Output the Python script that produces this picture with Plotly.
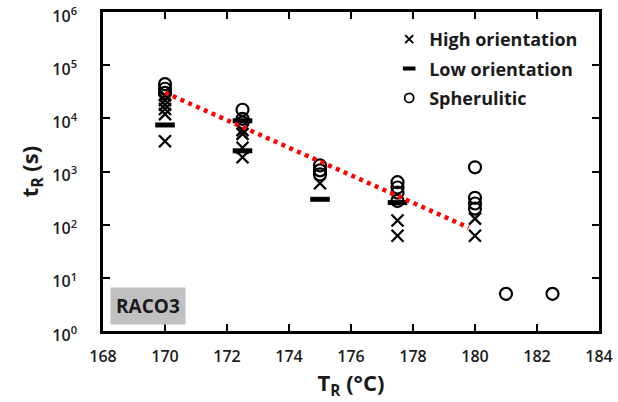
import plotly.graph_objects as go

# Data
high_T = [170, 170, 170, 170, 170, 170,
          172.5, 172.5, 172.5, 172.5,
          175,
          177.5, 177.5,
          180, 180]
high_t = [27000, 22000, 18000, 15000, 12000, 3700,
          6000, 5100, 2800, 1850,
          600,
          120, 62,
          130, 62]

low_T = [170, 172.5, 172.5, 175, 177.5]
low_t = [7500, 9000, 2450, 300, 260]

sph_T = [170, 170, 170,
         172.5, 172.5, 172.5,
         175, 175, 175,
         177.5, 177.5, 177.5, 177.5,
         180, 180, 180, 180,
         181, 182.5]
sph_t = [44000, 36000, 30000,
         14500, 9800, 8300,
         1300, 1050, 880,
         630, 500, 400, 280,
         1200, 320, 250, 200,
         5, 5]

fit_T = [170, 179.8]
fit_t = [30500, 88]

series_names = ["High orientation", "Low orientation", "Spherulitic"]

x_ticks = [168, 170, 172, 174, 176, 178, 180, 182, 184]
y_tickvals = [1, 10, 100, 1000, 10000, 100000, 1000000]
y_ticktext = ["10<sup>0</sup>", "10<sup>1</sup>", "10<sup>2</sup>", "10<sup>3</sup>",
              "10<sup>4</sup>", "10<sup>5</sup>", "10<sup>6</sup>"]

FONT = "Open Sans"
TXT = "#1a1a1a"

fig = go.Figure()
fig.add_trace(go.Scatter(
    x=high_T, y=high_t, mode="markers", name=series_names[0], showlegend=False,
    marker=dict(symbol="x-thin-open", size=12, color="black", line=dict(color="black", width=2.3)),
))
fig.add_trace(go.Scatter(
    x=low_T, y=low_t, mode="markers", name=series_names[1], showlegend=False,
    marker=dict(symbol="line-ew-open", size=14, color="black", line=dict(color="black", width=5)),
))
fig.add_trace(go.Scatter(
    x=sph_T, y=sph_t, mode="markers", name=series_names[2], showlegend=False,
    marker=dict(symbol="circle-open", size=12, color="black", line=dict(color="black", width=2.2)),
))
fig.add_trace(go.Scatter(
    x=fit_T, y=fit_t, mode="lines", showlegend=False,
    line=dict(color="#ff0000", width=4.5, dash="4px,4.5px"),
))

# legend entries (smaller symbols, as in the reference legend)
legend_markers = [
    dict(symbol="x-thin-open", size=8, color="black", line=dict(color="black", width=2)),
    dict(symbol="line-ew-open", size=9, color="black", line=dict(color="black", width=4)),
    dict(symbol="circle-open", size=9, color="black", line=dict(color="black", width=1.8)),
]
for i, (nm, mk) in enumerate(zip(series_names, legend_markers)):
    fig.add_trace(go.Scatter(
        x=[None], y=[None], mode="markers", name=nm, legendgroup=f"g{i}",
        marker=mk, showlegend=True,
    ))

fig.update_layout(
    width=618, height=402,
    margin=dict(l=103, r=19, t=12, b=71),
    plot_bgcolor="white", paper_bgcolor="white",
    font=dict(family=FONT, color=TXT, size=16),
    showlegend=True,
    legend=dict(
        x=0.577, y=0.972, xanchor="left", yanchor="top",
        bgcolor="rgba(0,0,0,0)", borderwidth=0,
        font=dict(family=FONT, size=18, color=TXT, weight="bold"),
        tracegroupgap=3, itemwidth=30,
    ),
    annotations=[dict(
        x=0.014, y=0.02, xref="paper", yref="paper", xanchor="left", yanchor="bottom",
        text="<b>RACO3</b>", showarrow=False, bgcolor="#c0c0c0", borderpad=5,
        font=dict(family=FONT, size=19, color=TXT),
    )],
)

fig.update_xaxes(
    range=[168, 184], tickvals=x_ticks, ticks="inside", ticklen=7, tickwidth=2,
    tickcolor="black", showline=True, linecolor="black", linewidth=2.5, mirror="ticks",
    showgrid=False, zeroline=False, ticklabelstandoff=9, automargin=False,
    tickfont=dict(family=FONT, size=16, color=TXT, weight=600),
    title=dict(text="<b>T<sub>R</sub> (°C)</b>", font=dict(family=FONT, size=22, color=TXT),
               standoff=4),
)
fig.update_yaxes(
    type="log", range=[0, 6], tickvals=y_tickvals, ticktext=y_ticktext,
    ticks="inside", ticklen=7, tickwidth=2, tickcolor="black",
    showline=True, linecolor="black", linewidth=2.5, mirror="ticks",
    showgrid=False, zeroline=False, ticklabelstandoff=20, automargin=False,
    ticklabelshift=4, ticklabeloverflow="allow",
    tickfont=dict(family=FONT, size=16, color=TXT, weight=600),
    title=dict(text="<b>t<sub>R</sub> (s)</b>", font=dict(family=FONT, size=22, color=TXT),
               standoff=8),
)

fig.write_html("out.html")
